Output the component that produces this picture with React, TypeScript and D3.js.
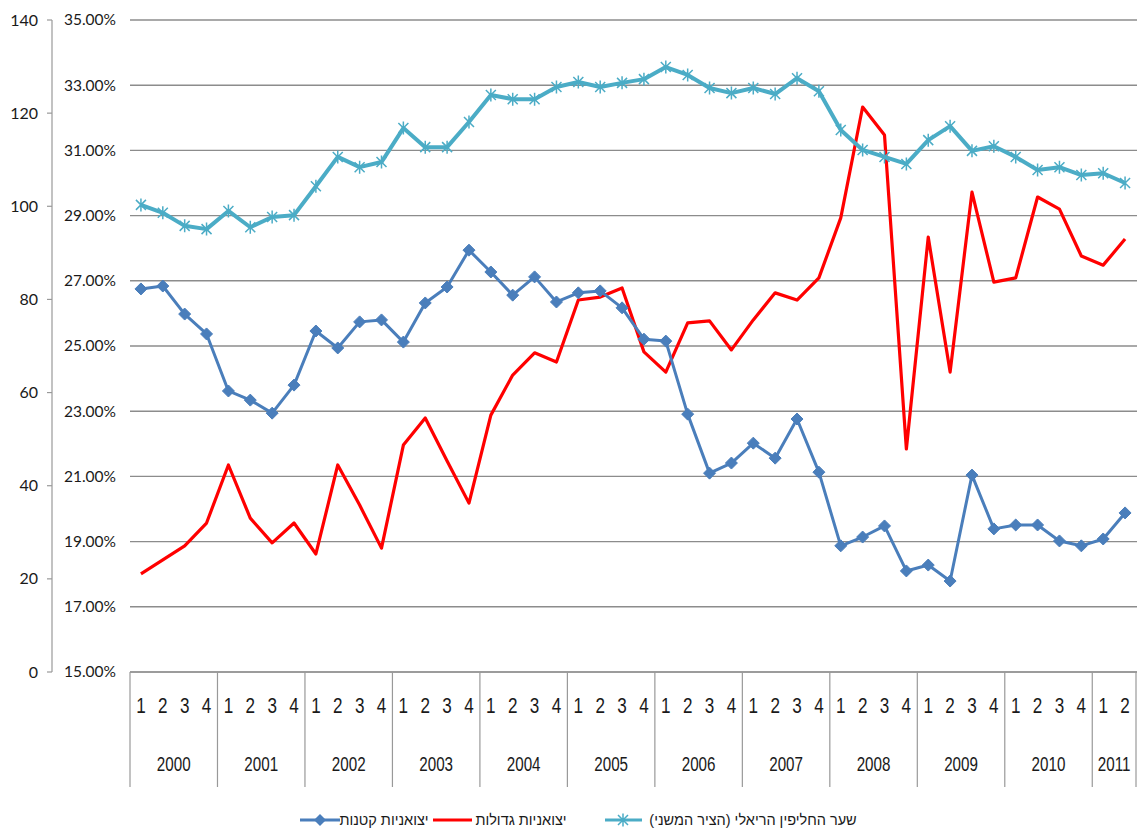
import * as d3 from 'd3';

const years = ['2000', '2001', '2002', '2003', '2004', '2005', '2006', '2007', '2008', '2009', '2010', '2011'];
const quartersPerYear = [4, 4, 4, 4, 4, 4, 4, 4, 4, 4, 4, 2];

// יצואניות קטנות (%)
const smallExporters = [
  26.75, 26.84, 25.98, 25.37, 23.62, 23.34, 22.94, 23.8, 25.46, 24.94, 25.74, 25.8,
  25.12, 26.32, 26.81, 27.94, 27.27, 26.56, 27.12, 26.35, 26.63, 26.69, 26.17, 25.21,
  25.15, 22.91, 21.1, 21.41, 22.02, 21.56, 22.76, 21.13, 18.87, 19.14, 19.48, 18.1,
  18.28, 17.79, 21.04, 19.39, 19.51, 19.51, 19.02, 18.87, 19.08, 19.88,
];

// יצואניות גדולות (%)
const largeExporters = [
  18.01, 18.44, 18.87, 19.57, 21.35, 19.72, 18.96, 19.57, 18.62, 21.35, 20.12, 18.8,
  21.96, 22.79, 21.47, 20.18, 22.88, 24.11, 24.79, 24.51, 26.41, 26.5, 26.78, 24.82,
  24.2, 25.71, 25.77, 24.88, 25.8, 26.63, 26.41, 27.09, 28.93, 32.33, 31.47, 21.84,
  28.34, 24.2, 29.72, 26.96, 27.09, 29.57, 29.2, 27.76, 27.48, 28.28,
];

// שער החליפין הריאלי (secondary axis)
const realExchangeRate = [
  100.3, 98.6, 95.8, 95.1, 99.0, 95.5, 97.7, 98.1, 104.3, 110.6, 108.4, 109.5,
  116.8, 112.7, 112.7, 118.1, 123.9, 123.0, 123.0, 125.6, 126.7, 125.6, 126.5, 127.3,
  129.9, 128.2, 125.4, 124.3, 125.4, 124.1, 127.5, 124.7, 116.4, 112.1, 110.6, 109.1,
  114.2, 117.2, 111.9, 112.9, 110.6, 107.8, 108.4, 106.7, 107.1, 105.0,
];

const leftTicks = [0, 20, 40, 60, 80, 100, 120, 140];
const pctTicks = [15, 17, 19, 21, 23, 25, 27, 29, 31, 33, 35];

const legendLabels = ['יצואניות קטנות', 'יצואניות גדולות', 'שער החליפין הריאלי (הציר המשני)'];

const W = 1137;
const H = 833;
const plot = { left: 130, right: 1136, top: 20, bottom: 672 };

const BLUE = '#4a7ebb';
const RED = '#ff0000';
const CYAN = '#4bacc6';
const GRID = '#8c8c8c';
const TEXT = '#1a1a1a';

const starPath = 'M-5,-5L5,5M-5,5L5,-5M0,-6.5L0,6.5';
const diamondPath = 'M0,-6L6,0L0,6L-6,0Z';

export default function App() {
  const cats = years.flatMap((y, yi) => d3.range(quartersPerYear[yi]).map((q) => ({ year: y, q: String(q + 1) })));
  const x = d3.scaleBand<number>().domain(d3.range(cats.length)).range([plot.left, plot.right]).padding(0);
  const cx = (i: number) => (x(i) as number) + x.bandwidth() / 2;
  const yLeft = d3.scaleLinear().domain([0, 140]).range([plot.bottom, plot.top]);
  const yPct = d3.scaleLinear().domain([15, 35]).range([plot.bottom, plot.top]);

  const pctLine = d3.line<number>().x((_, i) => cx(i)).y((d) => yPct(d));
  const rateLine = d3.line<number>().x((_, i) => cx(i)).y((d) => yLeft(d));

  // year boundaries
  let acc = 0;
  const yearSpans = years.map((y, yi) => {
    const start = acc;
    acc += quartersPerYear[yi];
    return { year: y, start, end: acc };
  });
  const bx = (i: number) => (i >= cats.length ? plot.right : (x(i) as number));

  const font = 'Lato, "Liberation Sans", sans-serif';
  const catFont = '"Liberation Sans", Arial, sans-serif';

  return (
    <svg width={W} height={H} style={{ position: 'absolute', left: 0, top: 0, background: '#fff' }}>
      <rect width={W} height={H} fill="#fff" />

      {/* gridlines */}
      {pctTicks.map((t) => (
        <line key={t} x1={plot.left} x2={W} y1={yPct(t)} y2={yPct(t)} stroke={GRID} strokeWidth={1.4} />
      ))}

      {/* left (secondary) axis */}
      <line x1={52} x2={52} y1={plot.top} y2={plot.bottom} stroke="#999" strokeWidth={1.2} />
      {leftTicks.map((t) => (
        <g key={t}>
          <line x1={47} x2={52} y1={yLeft(t)} y2={yLeft(t)} stroke="#999" strokeWidth={1.2} />
          <text x={38} y={yLeft(t)} dy="0.35em" textAnchor="end" fontFamily={font} fontSize={16} fill={TEXT}>
            {t}
          </text>
        </g>
      ))}

      {/* percent axis labels */}
      {pctTicks.map((t) => (
        <text key={t} x={116} y={yPct(t)} dy="0.35em" textAnchor="end" fontFamily={font} fontSize={15.5} fill={TEXT}>
          {d3.format('.2f')(t) + '%'}
        </text>
      ))}

      {/* category axis */}
      <line x1={plot.left} x2={W} y1={plot.bottom} y2={plot.bottom} stroke="#999" strokeWidth={1.4} />
      {yearSpans.map((s) => (
        <line key={'d' + s.year} x1={bx(s.start)} x2={bx(s.start)} y1={plot.bottom} y2={787} stroke="#999" strokeWidth={1.2} />
      ))}
      <line x1={plot.right} x2={plot.right} y1={plot.bottom} y2={787} stroke="#999" strokeWidth={1.2} />
      {cats.map((c, i) => (
        <text
          key={'q' + i}
          transform={`translate(${cx(i)},${705}) scale(0.95,1.2)`}
          dy="0.36em"
          textAnchor="middle"
          fontFamily={catFont}
          fontSize={18}
          fill={TEXT}
        >
          {c.q}
        </text>
      ))}
      {yearSpans.map((s) => (
        <text
          key={'y' + s.year}
          transform={`translate(${(bx(s.start) + bx(s.end)) / 2},${764}) scale(0.95,1.3)`}
          dy="0.36em"
          textAnchor="middle"
          fontFamily={catFont}
          fontSize={16}
          fill={TEXT}
        >
          {s.year}
        </text>
      ))}

      {/* series */}
      <path d={pctLine(largeExporters) ?? ''} fill="none" stroke={RED} strokeWidth={3.2} strokeLinejoin="round" />
      <path d={pctLine(smallExporters) ?? ''} fill="none" stroke={BLUE} strokeWidth={3} strokeLinejoin="round" />
      {smallExporters.map((v, i) => (
        <path key={'m' + i} d={diamondPath} transform={`translate(${cx(i)},${yPct(v)})`} fill={BLUE} stroke={BLUE} strokeWidth={1} />
      ))}
      <path d={rateLine(realExchangeRate) ?? ''} fill="none" stroke={CYAN} strokeWidth={4} strokeLinejoin="round" />
      {realExchangeRate.map((v, i) => (
        <path key={'s' + i} d={starPath} transform={`translate(${cx(i)},${yLeft(v)})`} fill="none" stroke={CYAN} strokeWidth={1.5} />
      ))}

      {/* legend */}
      <g fontFamily={catFont} fontSize={14.5} fill={TEXT}>
        <line x1={300} x2={340} y1={820} y2={820} stroke={BLUE} strokeWidth={3} />
        <path d={diamondPath} transform="translate(320,820)" fill={BLUE} />
        <text x={384} y={820} dy="0.35em" textAnchor="middle" direction="rtl">
          {legendLabels[0]}
        </text>
        <line x1={433} x2={472} y1={820} y2={820} stroke={RED} strokeWidth={3} />
        <text x={521} y={820} dy="0.35em" textAnchor="middle" direction="rtl">
          {legendLabels[1]}
        </text>
        <line x1={605} x2={642} y1={820} y2={820} stroke={CYAN} strokeWidth={3} />
        <path d={starPath} transform="translate(623,820)" fill="none" stroke={CYAN} strokeWidth={1.5} />
        <text x={753} y={820} dy="0.35em" textAnchor="middle" direction="rtl">
          {legendLabels[2]}
        </text>
      </g>
    </svg>
  );
}
